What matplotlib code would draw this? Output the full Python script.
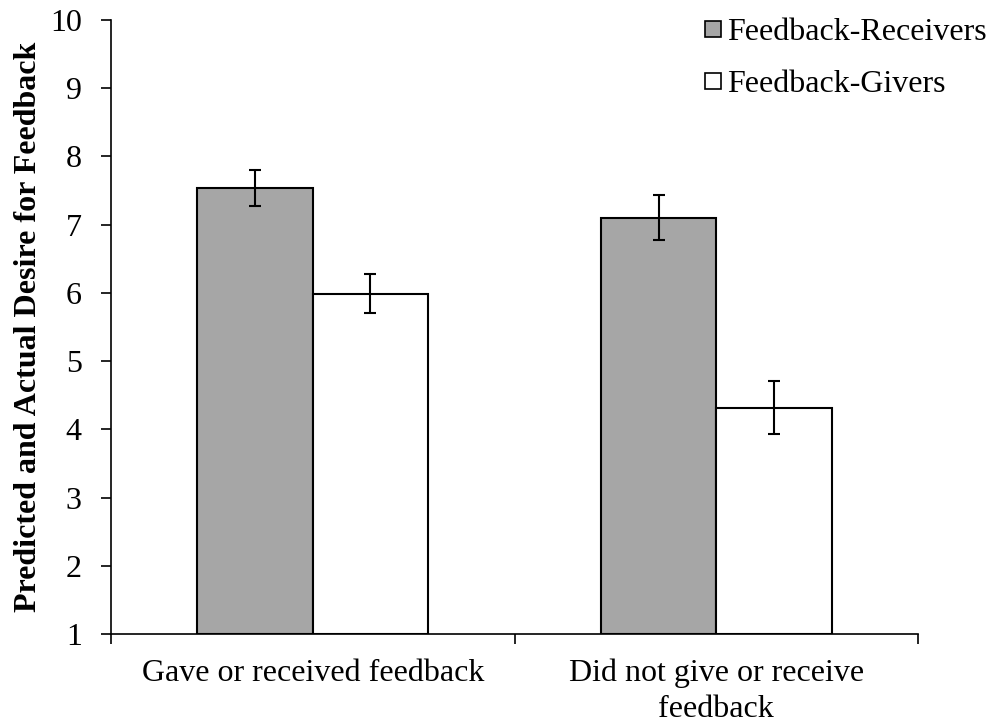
import matplotlib
matplotlib.use("Agg")
import matplotlib.pyplot as plt
import numpy as np
from matplotlib.lines import Line2D

plt.rcParams['font.family'] = ['Liberation Serif', 'DejaVu Serif']

categories = ["Gave or received feedback", "Did not give or receive\nfeedback"]
series_names = ["Feedback-Receivers", "Feedback-Givers"]
receivers = [7.54, 7.10]
receivers_err = [0.26, 0.33]
givers = [5.99, 4.32]
givers_err = [0.29, 0.39]
y_ticks = [1, 2, 3, 4, 5, 6, 7, 8, 9, 10]

FS = 23

fig = plt.figure(figsize=(9.93, 7.23), dpi=100)
ax = fig.add_axes([0.1118, 0.1231, 0.8127, 0.8492])

x = np.arange(len(categories))
width = 0.286
base = 1
err_kw = dict(ecolor='black', elinewidth=1.5, capsize=4.5, capthick=1.5)
ax.bar(x - width / 2, np.array(receivers) - base, width, bottom=base,
       color='#a6a6a6', edgecolor='black', linewidth=1.5,
       yerr=receivers_err, error_kw=err_kw, zorder=2)
ax.bar(x + width / 2, np.array(givers) - base, width, bottom=base,
       color='white', edgecolor='black', linewidth=1.5,
       yerr=givers_err, error_kw=err_kw, zorder=2)

ax.set_xlim(-0.5, 1.5)
ax.set_ylim(1, 10)
ax.set_yticks(y_ticks)
ax.set_yticklabels([str(t) for t in y_ticks], fontsize=FS)

ax.set_xticks([-0.5, 0.5, 1.5])
ax.set_xticklabels([])
ax.set_xticks(x, minor=True)
ax.set_xticklabels(categories, minor=True, fontsize=FS, linespacing=1.28)
ax.tick_params(axis='x', which='minor', length=0, pad=18)
ax.tick_params(axis='x', which='major', length=7, width=1.2, direction='out')
ax.tick_params(axis='y', length=7, width=1.2, direction='out', pad=14)

for s in ['top', 'right']:
    ax.spines[s].set_visible(False)
for s in ['left', 'bottom']:
    ax.spines[s].set_linewidth(1.2)

ax.set_ylabel("Predicted and Actual Desire for Feedback", fontsize=FS,
              fontweight='bold')
ax.yaxis.set_label_coords(-0.084, 0.5)

handles = [
    Line2D([], [], marker='s', linestyle='none', markersize=11.5,
           markerfacecolor='#a6a6a6', markeredgecolor='black', markeredgewidth=1.2),
    Line2D([], [], marker='s', linestyle='none', markersize=11.5,
           markerfacecolor='white', markeredgecolor='black', markeredgewidth=1.2),
]
ax.legend(handles, series_names, loc='upper right', bbox_to_anchor=(1.101, 1.025),
          frameon=False, fontsize=FS, handletextpad=0.0, labelspacing=0.73,
          handlelength=0.9, borderaxespad=0.0)

fig.savefig("out.png", dpi=100)
